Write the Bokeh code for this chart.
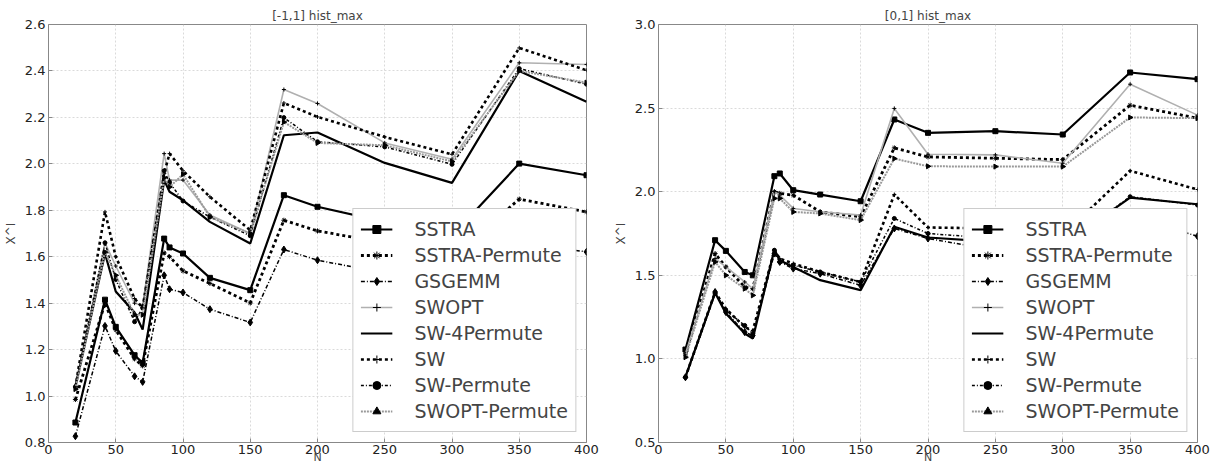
import math
from bokeh.plotting import figure
from bokeh.layouts import row
from bokeh.models import Legend, LegendItem, FixedTicker, PrintfTickFormatter
from bokeh.embed import file_html
from bokeh.resources import INLINE

N = [20, 42, 50, 64, 70, 86, 90, 100, 120, 150, 175, 200, 250, 300, 350, 400]
NAMES = ["SSTRA", "SSTRA-Permute", "GSGEMM", "SWOPT", "SW-4Permute", "SW", "SW-Permute", "SWOPT-Permute"]

# left panel  [-1,1] hist_max
L_SSTRA = [0.886, 1.415, 1.298, 1.176, 1.143, 1.678, 1.640, 1.614, 1.509, 1.456, 1.865, 1.815, 1.750, 1.690, 2.001, 1.951]
L_SSTRA_P = [0.985, 1.400, 1.285, 1.160, 1.130, 1.616, 1.600, 1.539, 1.485, 1.401, 1.757, 1.711, 1.660, 1.600, 1.848, 1.793]
L_GSGEMM = [0.827, 1.302, 1.194, 1.085, 1.061, 1.520, 1.460, 1.446, 1.374, 1.317, 1.631, 1.585, 1.530, 1.480, 1.660, 1.621]
L_SWOPT = [1.040, 1.660, 1.560, 1.400, 1.390, 2.044, 1.930, 1.930, 1.780, 1.700, 2.320, 2.260, 2.090, 2.020, 2.435, 2.428]
L_SW4P = [1.040, 1.614, 1.450, 1.360, 1.286, 1.930, 1.880, 1.843, 1.750, 1.657, 2.123, 2.135, 2.004, 1.918, 2.400, 2.267]
L_SW = [1.040, 1.793, 1.600, 1.420, 1.380, 1.960, 2.044, 1.970, 1.858, 1.714, 2.262, 2.202, 2.116, 2.041, 2.499, 2.403]
L_SWP = [1.040, 1.660, 1.502, 1.320, 1.380, 1.970, 1.920, 1.840, 1.771, 1.690, 2.199, 2.095, 2.073, 1.998, 2.410, 2.343]
L_SWOPTP = [1.030, 1.620, 1.520, 1.350, 1.350, 1.940, 1.900, 1.955, 1.771, 1.700, 2.180, 2.090, 2.080, 2.010, 2.400, 2.350]

# right panel  [0,1] hist_max
R_SSTRA = [1.056, 1.710, 1.646, 1.520, 1.500, 2.093, 2.109, 2.009, 1.983, 1.943, 2.432, 2.352, 2.362, 2.342, 2.713, 2.673]
R_SSTRA_P = [1.030, 1.630, 1.550, 1.430, 1.420, 2.000, 1.990, 1.979, 1.880, 1.850, 2.262, 2.208, 2.200, 2.192, 2.517, 2.440]
R_GSGEMM = [0.890, 1.400, 1.280, 1.160, 1.140, 1.630, 1.580, 1.540, 1.510, 1.440, 1.780, 1.720, 1.650, 1.600, 1.850, 1.734]
R_SWOPT = [1.030, 1.600, 1.550, 1.460, 1.420, 2.000, 1.980, 1.900, 1.880, 1.860, 2.498, 2.224, 2.220, 2.170, 2.643, 2.458]
R_SW4P = [0.892, 1.395, 1.271, 1.152, 1.122, 1.654, 1.590, 1.550, 1.471, 1.411, 1.790, 1.726, 1.700, 1.680, 1.965, 1.925]
R_SW = [0.890, 1.400, 1.300, 1.190, 1.170, 1.650, 1.600, 1.570, 1.520, 1.460, 1.983, 1.786, 1.780, 1.740, 2.125, 2.013]
R_SWP = [0.890, 1.390, 1.290, 1.200, 1.150, 1.650, 1.580, 1.560, 1.520, 1.460, 1.840, 1.750, 1.720, 1.680, 1.970, 1.920]
R_SWOPTP = [1.010, 1.580, 1.500, 1.420, 1.380, 1.960, 1.960, 1.879, 1.870, 1.830, 2.198, 2.152, 2.150, 2.150, 2.444, 2.440]

LEFT = [L_SSTRA, L_SSTRA_P, L_GSGEMM, L_SWOPT, L_SW4P, L_SW, L_SWP, L_SWOPTP]
RIGHT = [R_SSTRA, R_SSTRA_P, R_GSGEMM, R_SWOPT, R_SW4P, R_SW, R_SWP, R_SWOPTP]

L_YTICKS = [0.8, 1.0, 1.2, 1.4, 1.6, 1.8, 2.0, 2.2, 2.4, 2.6]
R_YTICKS = [0.5, 1.0, 1.5, 2.0, 2.5, 3.0]
XTICKS = [0, 50, 100, 150, 200, 250, 300, 350, 400]

# style: color, width, dash, marker, marker size, angle
STYLES = {
    "SSTRA": ("black", 2.2, "solid", "square", 5, 0),
    "SSTRA-Permute": ("black", 2.8, "3 3", "asterisk", 5, 0),
    "GSGEMM": ("black", 1.5, "4 2 1 2", "diamond", 7, 0),
    "SWOPT": ("#b0b0b0", 1.6, "solid", "cross", 4, 0),
    "SW-4Permute": ("black", 2.2, "solid", None, 0, 0),
    "SW": ("black", 2.6, "3 3", "cross", 4, 0),
    "SW-Permute": ("black", 1.5, "3 2 1 2", "circle", 4, 0),
    "SWOPT-Permute": ("#999999", 2.0, "2 1", "triangle", 5, -math.pi / 2),
}

FONT = "DejaVu Sans"


def panel(title, yr, yticks, series, width, bl, br, ylabel):
    p = figure(width=width, height=466, x_range=(0, 400), y_range=yr,
               output_backend="svg", toolbar_location=None, title=title,
               min_border_left=bl, min_border_right=br, min_border_top=24,
               min_border_bottom=24)
    p.title.align = "center"
    p.title.text_font = FONT
    p.title.text_font_size = "12px"
    p.title.text_font_style = "normal"
    p.title.standoff = 3
    p.outline_line_color = "#888888"
    p.outline_line_width = 1
    for ax in (p.xaxis[0], p.yaxis[0]):
        ax.axis_line_color = None
        ax.major_tick_in = 4
        ax.major_tick_out = 0
        ax.minor_tick_line_color = None
        ax.major_tick_line_color = "#888888"
        ax.major_label_text_font = FONT
        ax.major_label_text_font_size = "13px"
        ax.major_label_text_color = "#222222"
        ax.major_label_standoff = 3
        ax.axis_label_text_font = FONT
        ax.axis_label_text_font_size = "12px"
        ax.axis_label_text_font_style = "normal"
    p.xaxis.ticker = FixedTicker(ticks=XTICKS)
    p.xaxis.major_label_standoff = 2
    p.xaxis.axis_label = "N"
    p.xaxis.axis_label_text_font_size = "11px"
    p.xaxis.axis_label_standoff = -6
    p.yaxis.ticker = FixedTicker(ticks=yticks)
    p.yaxis.formatter = PrintfTickFormatter(format="%.1f")
    p.yaxis.axis_label = ylabel
    p.yaxis.axis_label_standoff = 4
    p.grid.grid_line_color = "#d0d0d0"
    p.grid.grid_line_dash = "2 2"
    p.grid.grid_line_width = 0.8
    p.xgrid.ticker = FixedTicker(ticks=XTICKS)
    p.ygrid.ticker = FixedTicker(ticks=yticks)

    items = []
    for name, vals in zip(NAMES, series):
        color, w, dash, marker, ms, ang = STYLES[name]
        rs = [p.line(N, vals, line_color=color, line_width=w, line_dash=dash)]
        if marker:
            rs.append(p.scatter(N, vals, marker=marker, size=ms, angle=ang,
                                line_color="black", fill_color="black", line_width=1))
        items.append(LegendItem(label=name, renderers=rs))
    lg = Legend(items=items, location="bottom_right")
    lg.margin = 10
    lg.padding = 7
    lg.spacing = 0
    lg.label_height = 26
    lg.glyph_height = 20
    lg.glyph_width = 32
    lg.label_standoff = 22
    lg.label_text_font = FONT
    lg.label_text_font_size = "19px"
    lg.label_text_line_height = 1.0
    lg.border_line_color = "#999999"
    lg.border_line_width = 1
    lg.background_fill_alpha = 1.0
    p.add_layout(lg)
    return p


p1 = panel("[-1,1] hist_max", (0.8, 2.6), L_YTICKS, LEFT, 610, 47, 24, "X^I")
p2 = panel("[0,1] hist_max", (0.5, 3.0), R_YTICKS, RIGHT, 609, 47, 22, "X^I")
layout = row(p1, p2)
open("out.html", "w").write(file_html(layout, INLINE))
